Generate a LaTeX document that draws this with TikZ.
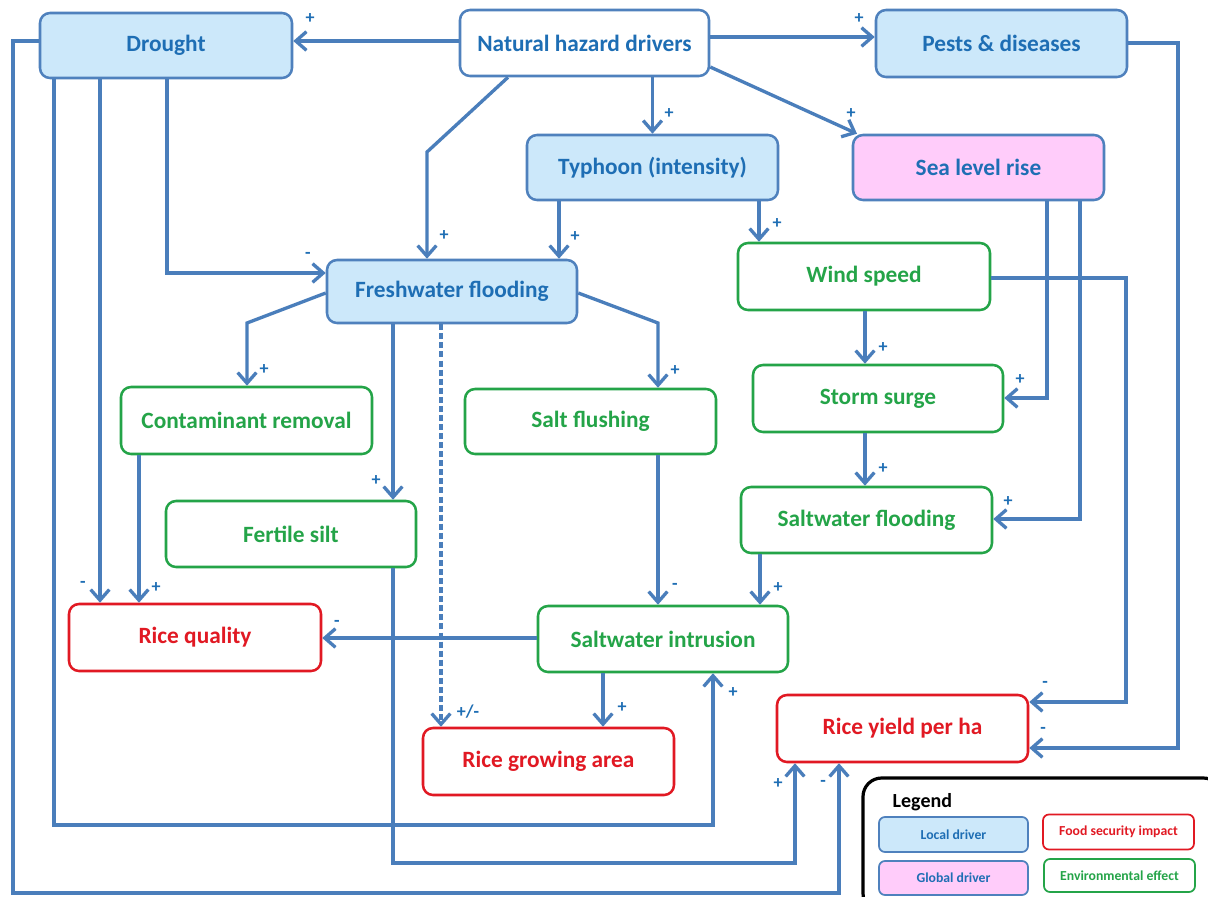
\documentclass[tikz,border=0pt]{standalone}
\usepackage{fontspec}
\setmainfont{Carlito}
\usetikzlibrary{arrows.meta}
\definecolor{edgeblue}{RGB}{74,126,187}
\definecolor{bordblue}{RGB}{79,129,189}
\definecolor{localfill}{RGB}{204,232,250}
\definecolor{globalfill}{RGB}{255,204,250}
\definecolor{txtblue}{RGB}{30,110,180}
\definecolor{envgreen}{RGB}{36,164,72}
\definecolor{impred}{RGB}{225,25,35}
\tikzset{
  sz/.style 2 args={minimum width=#1*0.75pt, minimum height=#2*0.75pt},
  box/.style={draw, rounded corners=7.5pt, line width=1.9pt, inner sep=0pt,
    font=\bfseries\fontsize{17.5}{20}\selectfont},
  localbox/.style={box, draw=bordblue, fill=localfill, text=txtblue},
  hazbox/.style={box, draw=bordblue, fill=white, text=txtblue},
  globalbox/.style={box, draw=bordblue, fill=globalfill, text=txtblue},
  envbox/.style={box, draw=envgreen, fill=white, text=envgreen},
  impbox/.style={box, draw=impred, fill=white, text=impred},
  legbox/.style={draw, rounded corners=4.5pt, line width=1.3pt, inner sep=0pt,
    font=\bfseries\fontsize{10.3}{11}\selectfont},
  arr/.style={draw=edgeblue, line width=2.5pt, -{Straight Barb[length=8pt,width=14pt,line width=2.5pt]}},
  sign/.style={text=txtblue, font=\bfseries\fontsize{13.5}{14}\selectfont, inner sep=0pt},
}
\begin{document}
\begin{tikzpicture}[x=0.75pt, y=-0.75pt]
\useasboundingbox (0,0) rectangle (1208,897);
\fill[white] (0,0) rectangle (1208,897);

% helper coordinates
\foreach \v in {13,54,100,139,167,247,393,427,441,508,559,603,658,713,759,760,795,839,857,865,1047,1080,1126,1178}
  {\coordinate (X\v) at (\v,0);}
\foreach \v in {37,41,43,67,135,152,273,278,293,323,398,519,638,702,748,825,863,893}
  {\coordinate (Y\v) at (0,\v);}

% nodes
\node[localbox, sz={252}{65}] (drought) at (166,45.5) {Drought};
\node[hazbox, sz={249}{66}] (nhd) at (584.5,43) {Natural hazard drivers};
\node[localbox, sz={251}{67}] (pests) at (1001.5,43.5) {Pests \& diseases};
\node[localbox, sz={251}{65}] (typhoon) at (652.5,167.5) {Typhoon (intensity)};
\node[globalbox, sz={251}{65}] (slr) at (978.5,167.5) {Sea level rise};
\node[localbox, sz={250}{63}] (fresh) at (452,291.5) {Freshwater flooding};
\node[envbox, sz={252}{67}] (wind) at (864,276.5) {Wind speed};
\node[envbox, sz={251}{67}] (contam) at (246.5,420.5) {Contaminant removal};
\node[envbox, sz={251}{65}] (saltflush) at (590.5,421.5) {Salt flushing};
\node[envbox, sz={250}{67}] (storm) at (878,398.5) {Storm surge};
\node[envbox, sz={250}{66}] (fertile) at (291,534) {Fertile silt};
\node[envbox, sz={251}{66}] (swflood) at (866.5,520) {Saltwater flooding};
\node[envbox, sz={250}{66}] (swintr) at (663,639) {Saltwater intrusion};
\node[impbox, sz={252}{67}] (quality) at (195,637.5) {Rice quality};
\node[impbox, sz={251}{67}] (growing) at (548.5,761.5) {Rice growing area};
\node[impbox, sz={251}{67}] (yield) at (902.5,728.5) {Rice yield per ha};

% connectors
\draw[arr] (nhd.west |- Y41) -- (drought.east |- Y41);
\draw[arr] (nhd.east |- Y37) -- (pests.west |- Y37);
\draw[arr] (nhd.south -| typhoon.north) -- (typhoon.north);
\draw[arr] (nhd.east |- Y67) -- (X857 |- slr.north);
\draw[arr] (nhd.south -| X508) -- (X427 |- Y152) -- (fresh.north -| X427);
\draw[arr] (typhoon.south -| X559) -- (fresh.north -| X559);
\draw[arr] (typhoon.south -| X759) -- (wind.north -| X759);
\draw[arr] (drought.south -| X167) -- (X167 |- Y273) -- (fresh.west |- Y273);
\draw[arr] (drought.south -| X100) -- (quality.north -| X100);
\draw[arr] (drought.south -| X54) -- (X54 |- Y825) -- (X713 |- Y825) -- (swintr.south -| X713);
\draw[arr] (drought.west |- Y41) -- (X13 |- Y41) -- (X13 |- Y893) -- (X839 |- Y893) -- (yield.south -| X839);
\draw[arr] (fresh.west |- Y293) -- (X247 |- Y323) -- (contam.north -| X247);
\draw[arr] (fresh.south -| X393) -- (fertile.north -| X393);
\draw[arr, dash pattern=on 4.5pt off 2.3pt] (fresh.south -| X441) -- (growing.north -| X441);
\draw[arr] (fresh.east |- Y293) -- (X658 |- Y323) -- (saltflush.north -| X658);
\draw[arr] (contam.south -| X139) -- (quality.north -| X139);
\draw[arr] (fertile.south -| X393) -- (X393 |- Y863) -- (X795 |- Y863) -- (yield.south -| X795);
\draw[arr] (saltflush.south -| X658) -- (swintr.north -| X658);
\draw[arr] (swflood.south -| X760) -- (swintr.north -| X760);
\draw[arr] (swintr.west |- Y638) -- (quality.east |- Y638);
\draw[arr] (swintr.south -| X603) -- (growing.north -| X603);
\draw[arr] (wind.south -| X865) -- (storm.north -| X865);
\draw[arr] (storm.south -| X865) -- (swflood.north -| X865);
\draw[arr] (slr.south -| X1047) -- (X1047 |- Y398) -- (storm.east |- Y398);
\draw[arr] (slr.south -| X1080) -- (X1080 |- Y519) -- (swflood.east |- Y519);
\draw[arr] (wind.east |- Y278) -- (X1126 |- Y278) -- (X1126 |- Y702) -- (yield.east |- Y702);
\draw[arr] (pests.east |- Y43) -- (X1178 |- Y43) -- (X1178 |- Y748) -- (yield.east |- Y748);

% signs
\node[sign] (s1) at (310,19) {+};
\node[sign] (s2) at (859,19) {+};
\node[sign] (s3) at (669,114) {+};
\node[sign] (s4) at (851,114) {+};
\node[sign] (s5) at (444,236) {+};
\node[sign] (s6) at (575,237) {+};
\node[sign] (s7) at (777,224) {+};
\node[sign] (s8) at (308,255) {-};
\node[sign] (s9) at (264,370) {+};
\node[sign] (s10) at (376,481) {+};
\node[sign] (s11) at (675,371) {+};
\node[sign] (s12) at (83,584) {-};
\node[sign] (s13) at (156,588) {+};
\node[sign] (s14) at (675,586) {-};
\node[sign] (s15) at (778,588) {+};
\node[sign] (s16) at (337,623) {-};
\node[sign] (s17) at (468,712) {+/-};
\node[sign] (s18) at (622,708) {+};
\node[sign] (s19) at (733,693) {+};
\node[sign] (s20) at (778,784) {+};
\node[sign] (s21) at (823,783) {-};
\node[sign] (s22) at (883,348) {+};
\node[sign] (s23) at (1020,380) {+};
\node[sign] (s24) at (883,469) {+};
\node[sign] (s25) at (1008,502) {+};
\node[sign] (s26) at (1045,684) {-};
\node[sign] (s27) at (1043,730) {-};

% legend
\begin{scope}
\clip (0,0) rectangle (1208,897);
\draw[line width=2.4pt, rounded corners=14pt, fill=white] (863,778) rectangle (1222,912);
\end{scope}
\node[anchor=west, font=\bfseries\fontsize{15}{17}\selectfont] (legtitle) at (888,802) {Legend};
\node[legbox, draw=bordblue, fill=localfill, text=txtblue, sz={149}{35}] (lg1) at (953.5,834.5) {Local driver};
\node[legbox, draw=impred, fill=white, text=impred, sz={151}{35}] (lg2) at (1118.5,832) {Food security impact};
\node[legbox, draw=bordblue, fill=globalfill, text=txtblue, sz={149}{34}] (lg3) at (953.5,878) {Global driver};
\node[legbox, draw=envgreen, fill=white, text=envgreen, sz={151}{33}] (lg4) at (1119.5,875.5) {Environmental effect};
\end{tikzpicture}
\end{document}
